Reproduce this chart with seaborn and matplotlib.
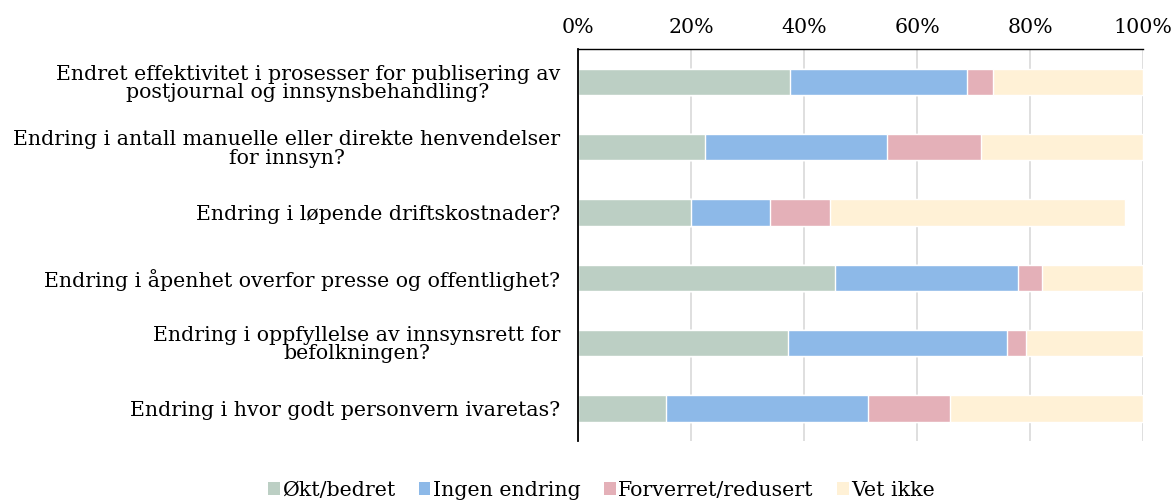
import pandas as pd
import numpy as np
import matplotlib
matplotlib.use("Agg")
import matplotlib.pyplot as plt
import seaborn as sns
from matplotlib.patches import Patch

# Data (andel i prosent)
sporsmal = [
    "Endret effektivitet i prosesser for publisering av\npostjournal og innsynsbehandling?",
    "Endring i antall manuelle eller direkte henvendelser\nfor innsyn?",
    "Endring i løpende driftskostnader?",
    "Endring i åpenhet overfor presse og offentlighet?",
    "Endring i oppfyllelse av innsynsrett for\nbefolkningen?",
    "Endring i hvor godt personvern ivaretas?",
]
okt = [37.5, 22.5, 19.9, 45.4, 37.2, 15.5]
ingen = [31.3, 32.1, 14.1, 32.4, 38.7, 35.8]
forverret = [4.6, 16.6, 10.6, 4.3, 3.4, 14.5]
vet_ikke = [26.6, 28.8, 52.2, 17.9, 20.7, 34.2]

serier = ["Økt/bedret", "Ingen endring", "Forverret/redusert", "Vet ikke"]
farger = ["#bccfc4", "#8db9e8", "#e4b0b8", "#fff1d6"]

df = pd.DataFrame({
    "Spørsmål": sporsmal,
    "Økt/bedret": okt,
    "Ingen endring": ingen,
    "Forverret/redusert": forverret,
    "Vet ikke": vet_ikke,
})
kum = df[serier].cumsum(axis=1)
kum["Spørsmål"] = df["Spørsmål"]

sns.set_style("white")
plt.rcParams["font.family"] = ["DejaVu Serif"]
plt.rcParams["text.color"] = "black"
fs = 14.8

fig, ax = plt.subplots(figsize=(11.75, 5.03), dpi=100)
fig.subplots_adjust(left=0.492, right=0.973, top=0.902, bottom=0.123)

# stablede søyler: tegn kumulative summer bakfra
for s, f in reversed(list(zip(serier, farger))):
    sns.barplot(data=kum, x=s, y="Spørsmål", orient="h", color=f,
                width=0.4, ax=ax, saturation=1, zorder=2)

ax.set_xlim(0, 100)
ax.set_ylim(5.5, -0.5)
ax.xaxis.tick_top()
ax.set_xticks(np.arange(0, 101, 20))
ax.set_xticklabels([f"{v}%" for v in range(0, 101, 20)])
ax.grid(axis="x", color="#d9d9d9", linewidth=1.2, zorder=0)
ax.set_axisbelow(True)
ax.set_xlabel("")
ax.set_ylabel("")
ax.tick_params(axis="both", length=0, labelsize=fs, colors="black")
ax.tick_params(axis="x", pad=9)
ax.tick_params(axis="y", pad=13)
for lab in ax.get_yticklabels():
    lab.set_multialignment("center")
    lab.set_linespacing(0.95)
for sp in ["right", "bottom"]:
    ax.spines[sp].set_visible(False)
ax.spines["left"].set_color("black")
ax.spines["left"].set_linewidth(1.3)
ax.spines["top"].set_color("black")
ax.spines["top"].set_linewidth(1.0)

handles = [Patch(facecolor=f, edgecolor="none", label=s) for s, f in zip(serier, farger)]
leg = fig.legend(handles=handles, loc="lower center", ncol=4, frameon=False,
                 bbox_to_anchor=(0.512, -0.03), fontsize=fs, handlelength=0.55,
                 handleheight=0.55, handletextpad=0.12, columnspacing=1.15)
for t in leg.get_texts():
    t.set_color("black")

fig.savefig("out.png", dpi=100)
